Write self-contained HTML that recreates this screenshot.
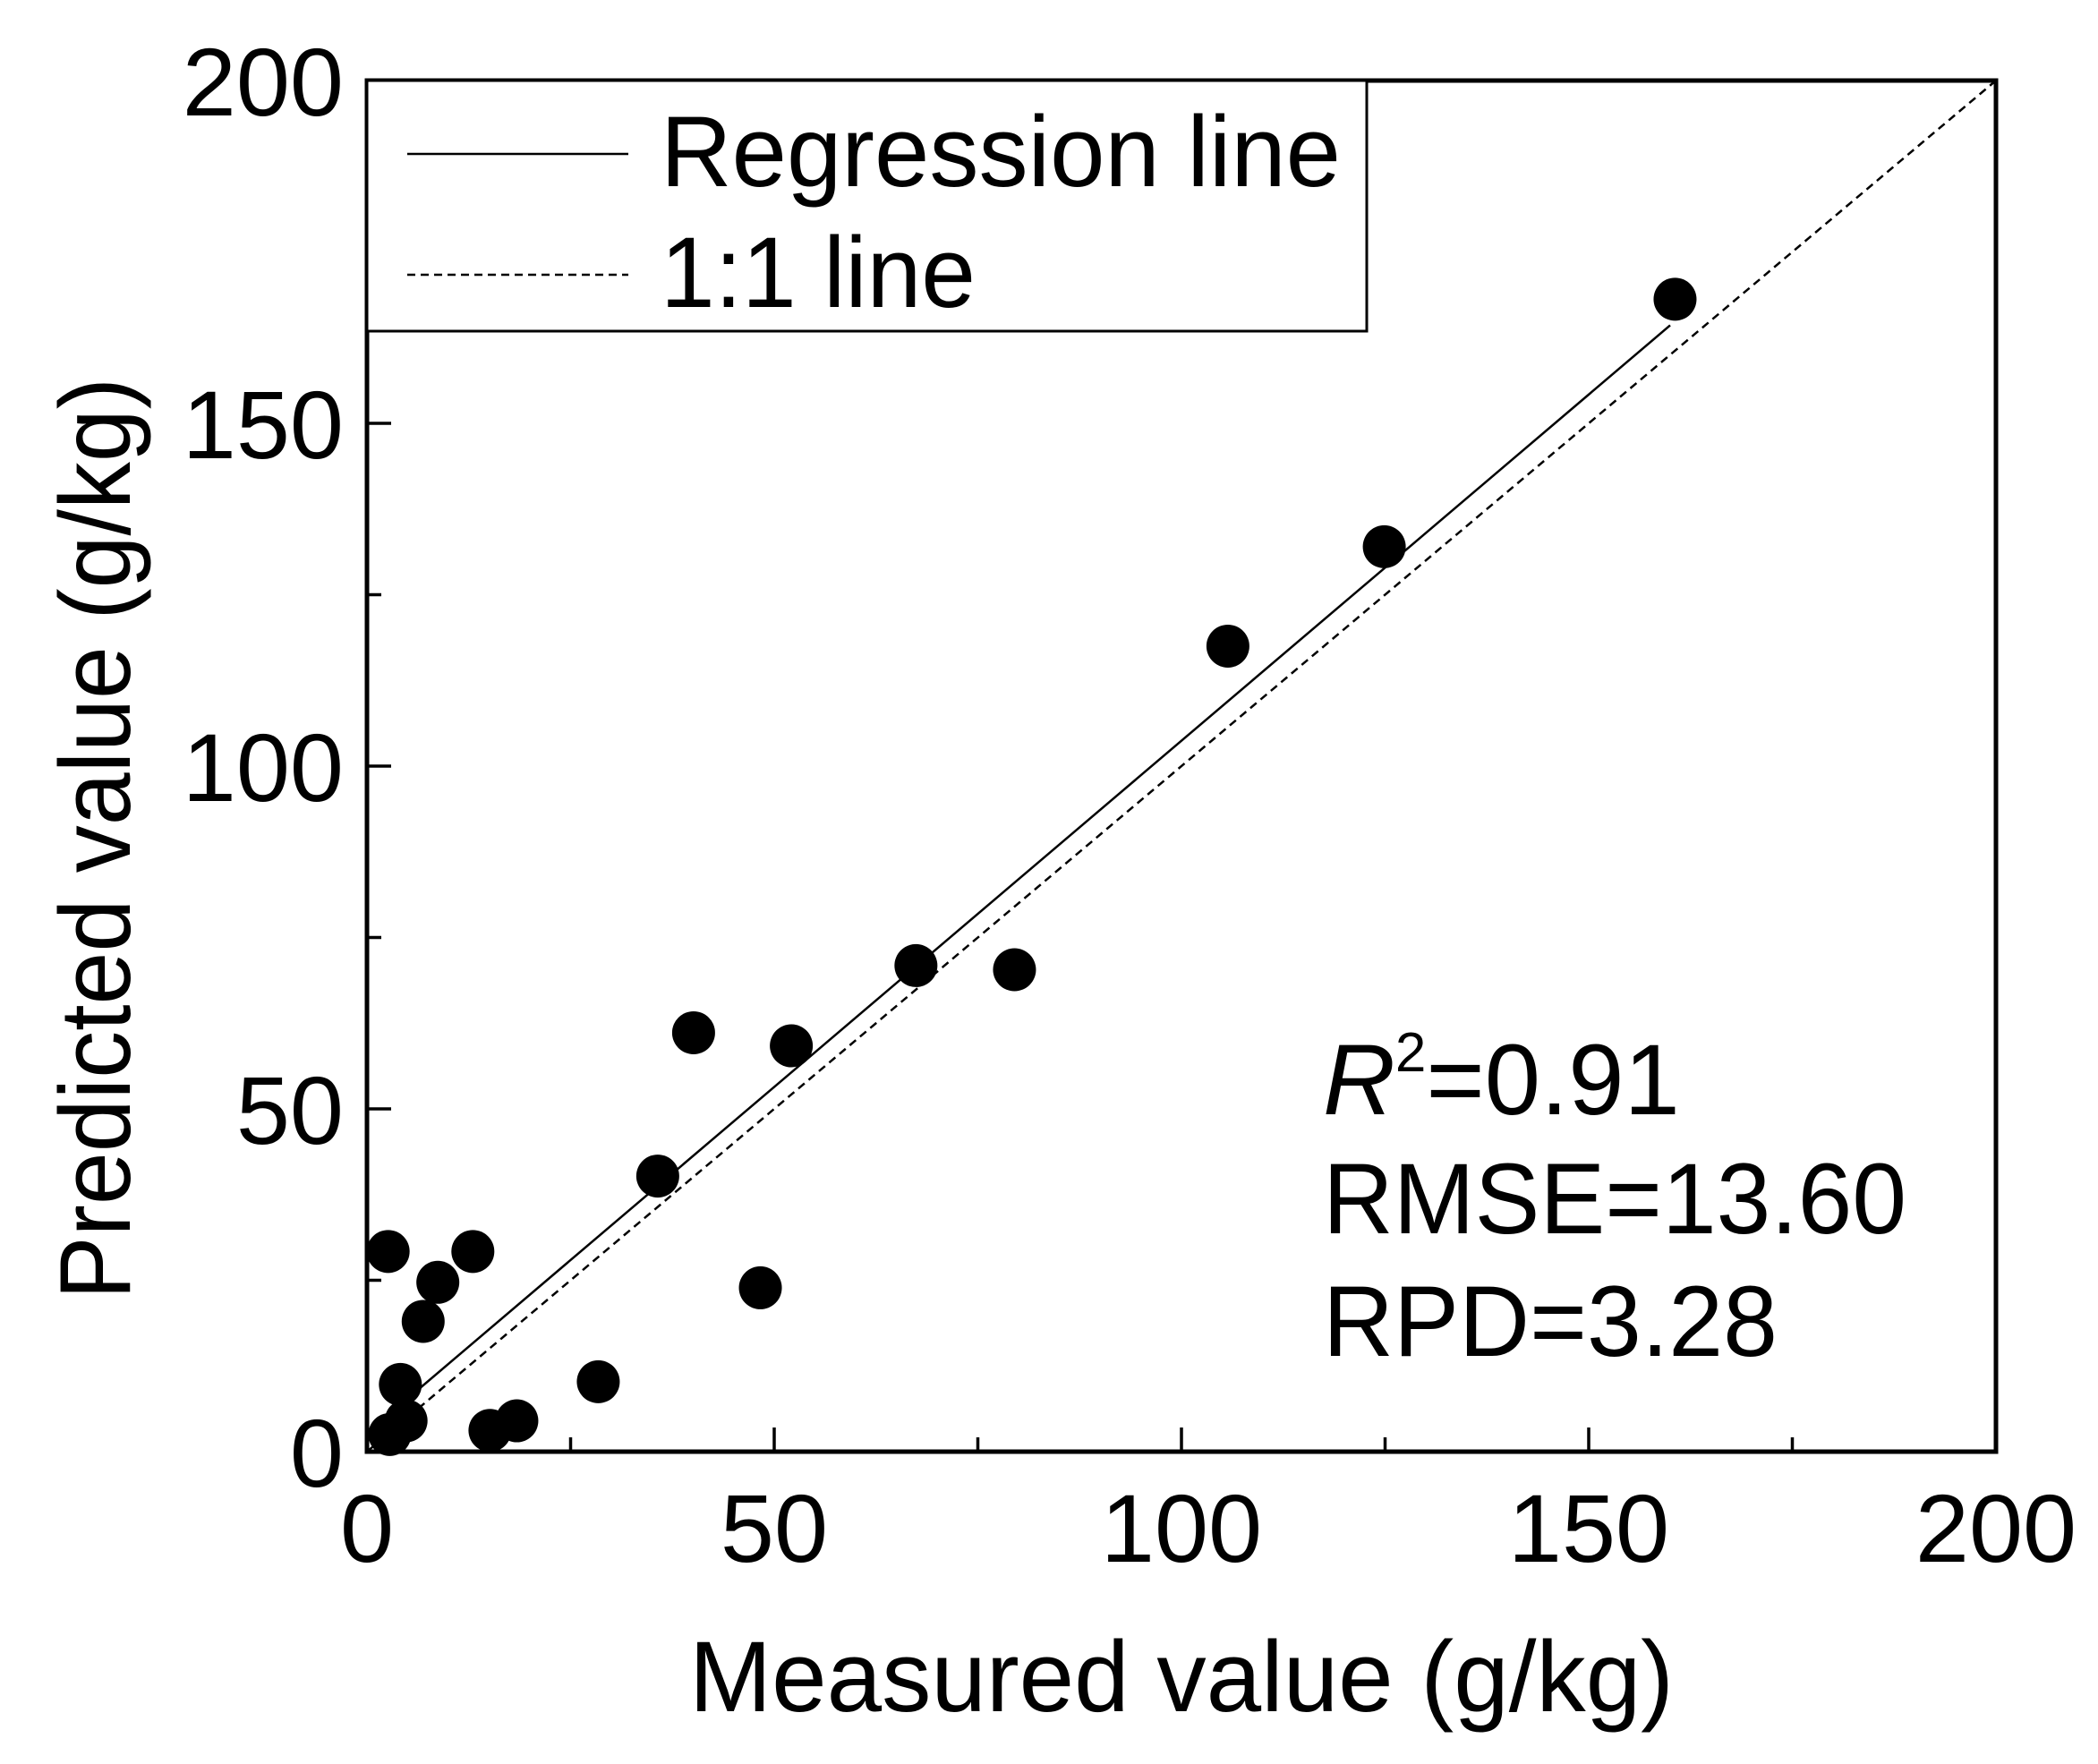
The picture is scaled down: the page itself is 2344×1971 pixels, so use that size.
<!DOCTYPE html>
<html><head><meta charset="utf-8"><style>
html,body{margin:0;padding:0;background:#fff;}
svg{display:block;font-family:"Liberation Sans",Arial,sans-serif;}
</style></head><body>
<svg id="chart" width="2344" height="1971" viewBox="0 0 2344 1971" xmlns="http://www.w3.org/2000/svg">
<rect width="2344" height="1971" fill="#fff"/>
<g id="plot"></g>
<g id="axes"></g>
<g>
  <rect x="410" y="90" width="1117" height="280" fill="#fff" stroke="#000" stroke-width="3"/>
  <line x1="455" y1="172" x2="702" y2="172" stroke="#000" stroke-width="2.5"/>
  <text x="738" y="208" font-size="112" textLength="760" lengthAdjust="spacingAndGlyphs">Regression line</text>
  <line x1="455" y1="307" x2="702" y2="307" stroke="#000" stroke-width="2.5" stroke-dasharray="9,6"/>
  <text x="738" y="343" font-size="112" textLength="352" lengthAdjust="spacingAndGlyphs">1:1 line</text>
</g>
<g>
  <text x="1478" y="1245" font-size="112"><tspan font-style="italic">R</tspan><tspan font-size="62" dy="-48">2</tspan><tspan dy="48">=0.91</tspan></text>
  <text x="1478" y="1378" font-size="112" textLength="652" lengthAdjust="spacingAndGlyphs">RMSE=13.60</text>
  <text x="1478" y="1515" font-size="112" textLength="508" lengthAdjust="spacingAndGlyphs">RPD=3.28</text>
</g>
<text x="1320" y="1912" font-size="112" text-anchor="middle" textLength="1100" lengthAdjust="spacingAndGlyphs">Measured value (g/kg)</text>
<text transform="translate(145,937) rotate(-90)" font-size="112" text-anchor="middle" textLength="1030" lengthAdjust="spacingAndGlyphs">Predicted value (g/kg)</text>
</svg>
<script>
const measured = [160.6,124.9,105.7,67.4,79.5,40.1,52.1,35.7,48.3,2.6,13.0,8.7,6.9,28.4,4.1,4.8,2.8,15.1,18.4];
const predicted = [168.1,132.0,117.5,70.9,70.3,61.1,59.2,40.2,23.9,29.2,29.2,24.7,19.0,10.2,9.8,4.5,2.5,3.1,4.5];
const majorTicks = [0,50,100,150,200];
const minorTicks = [25,75,125,175];
const regSlope = 1.01;
const regIntercept = 2.7;
const regRange = [5,160];

const NS='http://www.w3.org/2000/svg';
const L=410,R=2230,T=90,B=1622,MAX=200;
const sx=v=>L+(v/MAX)*(R-L);
const sy=v=>B-(v/MAX)*(B-T);
const plot=document.getElementById('plot');
const axes=document.getElementById('axes');
function mk(tag,attrs,parent){const e=document.createElementNS(NS,tag);for(const k in attrs)e.setAttribute(k,attrs[k]);parent.appendChild(e);return e;}

let l=mk('line',{x1:sx(0),y1:sy(0),x2:sx(MAX),y2:sy(MAX),stroke:'#000','stroke-width':2.5,'stroke-dasharray':'9,6'},plot);


l=mk('line',{x1:sx(regRange[0]),y1:sy(regSlope*regRange[0]+regIntercept),x2:sx(regRange[1]),y2:sy(regSlope*regRange[1]+regIntercept),stroke:'#000','stroke-width':2.5},plot);


measured.forEach((m,i)=>{
  const c=mk('circle',{cx:sx(m),cy:sy(predicted[i]),r:24,fill:'#000'},plot);
  
  
});
const f=mk('rect',{x:L,y:T,width:R-L,height:B-T,fill:'none',stroke:'#000','stroke-width':5},axes);


majorTicks.forEach(v=>{
  let t=mk('line',{x1:sx(v),y1:B,x2:sx(v),y2:B-27,stroke:'#000','stroke-width':3.5},axes);
  
  
  t=mk('line',{x1:L,y1:sy(v),x2:L+27,y2:sy(v),stroke:'#000','stroke-width':3.5},axes);
  
  
  let tx=mk('text',{x:sx(v),y:1745,'font-size':108,'text-anchor':'middle'},axes);
  tx.textContent=v;
  
  
  tx=mk('text',{x:384,y:sy(v)+39,'font-size':108,'text-anchor':'end'},axes);
  tx.textContent=v;
  
  
});
minorTicks.forEach(v=>{
  let t=mk('line',{x1:sx(v),y1:B,x2:sx(v),y2:B-16,stroke:'#000','stroke-width':3.5},axes);
  
  
  t=mk('line',{x1:L,y1:sy(v),x2:L+16,y2:sy(v),stroke:'#000','stroke-width':3.5},axes);
  
  
});
</script>
</body></html>
